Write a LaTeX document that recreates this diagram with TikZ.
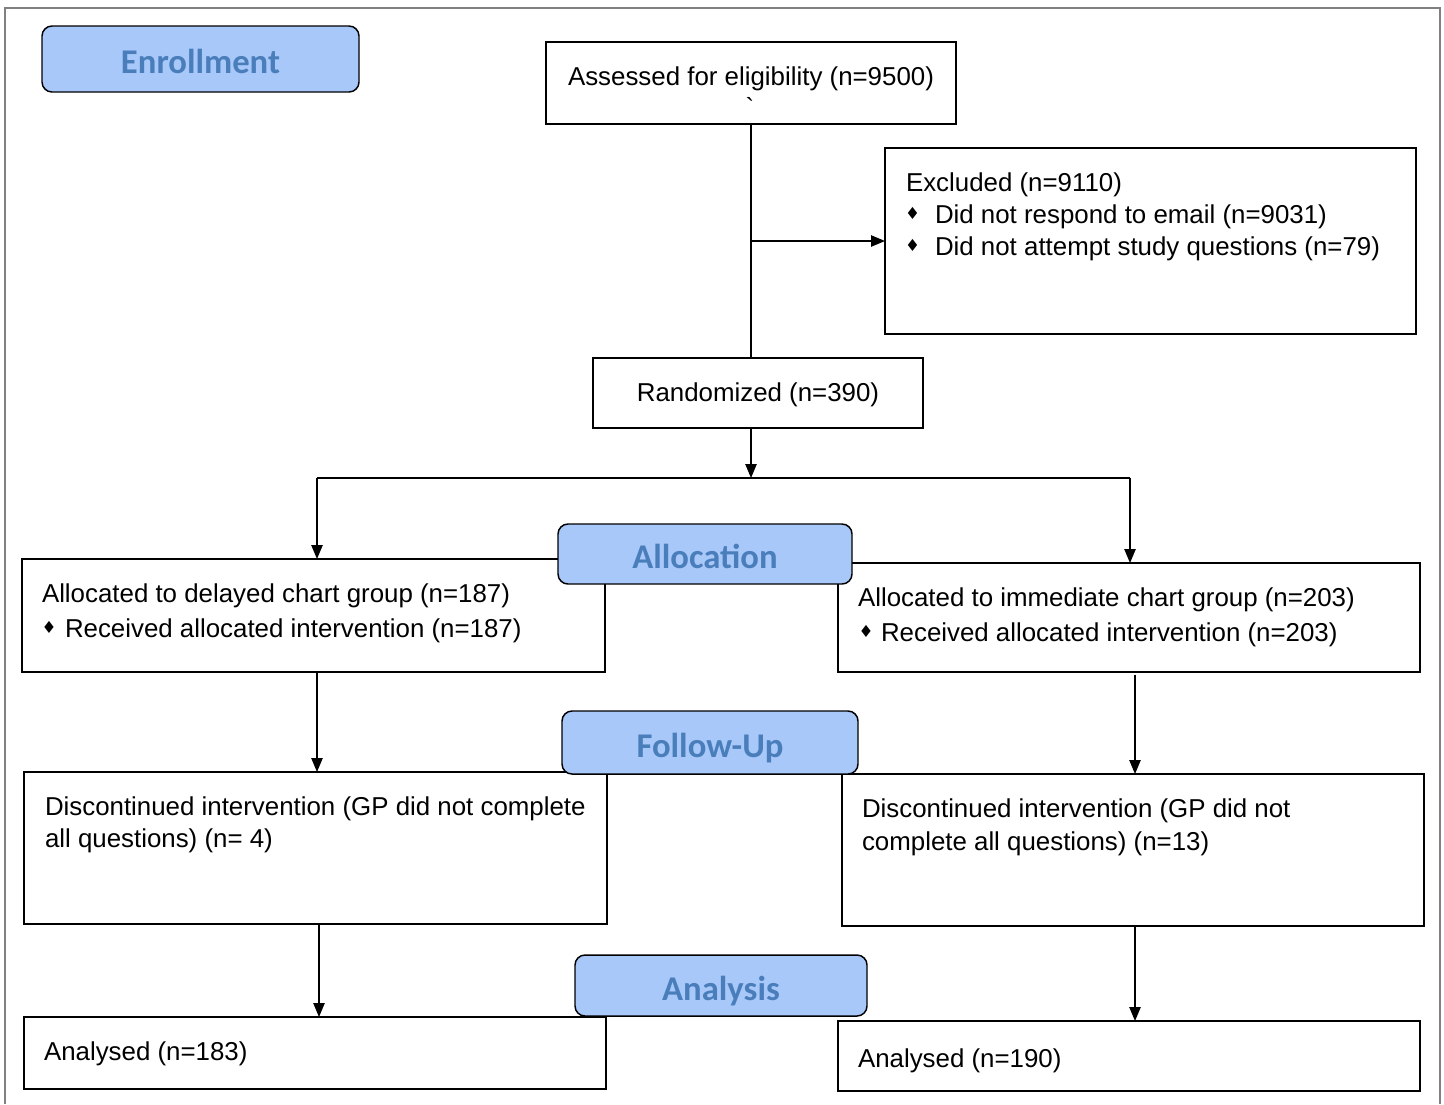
\documentclass[tikz,border=0pt]{standalone}
\usepackage{fontspec}
\setmainfont{Liberation Sans}
\newfontfamily\labfont{Carlito}
\newfontfamily\symfont{DejaVu Sans}
\usetikzlibrary{arrows.meta}
\definecolor{labfill}{RGB}{168,200,250}
\definecolor{labtext}{RGB}{74,126,187}
\begin{document}
\begin{tikzpicture}[x=0.75pt,y=-0.75pt,
  bx/.style={draw=black,line width=1.1pt,inner sep=0pt,outer sep=0pt,fill=white},
  lab/.style={draw=black,line width=1.1pt,fill=labfill,rounded corners=7.5pt,inner sep=0pt,outer sep=0pt,
    text height=22pt,text depth=0pt,
    font=\labfont\bfseries\fontsize{26}{30}\selectfont,text=labtext},
  txt/.style={anchor=base west,inner sep=0pt,outer sep=0pt,font=\fontsize{19.4}{23}\selectfont},
  ctxt/.style={anchor=base,inner sep=0pt,outer sep=0pt,font=\fontsize{19.4}{23}\selectfont},
  bul/.style={anchor=center,inner sep=0pt,outer sep=0pt,font=\symfont\fontsize{12.5}{12.5}\selectfont},
  arr/.style={line width=1.1pt,-{Triangle[length=10.5pt,width=8.5pt]}},
  ln/.style={line width=1.1pt}]
\useasboundingbox (0,0) rectangle (1444,1104);
\fill[white] (0,0) rectangle (1444,1104);
% outer frame
\draw[gray,line width=1.5pt] (5,1104) -- (5,8) -- (1440,8) -- (1440,1104);

% boxes
\node[bx,minimum width=307.5pt,minimum height=61.5pt] (assess) at (751,83) {};
\node[bx,minimum width=398.25pt,minimum height=139.5pt] (excl) at (1150.5,241) {};
\node[bx,minimum width=247.5pt,minimum height=52.5pt] (rand) at (758,393) {};
\node[bx,minimum width=437.25pt,minimum height=84.75pt] (la) at (313.5,615.5) {};
\node[bx,minimum width=436.5pt,minimum height=81.75pt] (ra) at (1129,617.5) {};
\node[bx,minimum width=437.25pt,minimum height=114pt] (ld) at (315.5,848) {};
\node[bx,minimum width=436.5pt,minimum height=114pt] (rd) at (1133,850) {};
\node[bx,minimum width=436.5pt,minimum height=54pt] (lan) at (315,1053) {};
\node[bx,minimum width=436.5pt,minimum height=52.5pt] (ran) at (1129,1056) {};

% texts
\node[ctxt] (assess-t) at (751,85) {Assessed for eligibility (n=9500)};
\node[ctxt] (assess-g) at (750,116) {\textasciigrave};

\node[txt] (excl-t1) at (906,191) {Excluded (n=9110)};
\node[bul] (excl-b1) at (912.5,213) {♦};
\node[txt] (excl-t2) at (935,223) {Did not respond to email (n=9031)};
\node[bul] (excl-b2) at (912.5,245) {♦};
\node[txt] (excl-t3) at (935,255) {Did not attempt study questions (n=79)};

\node[ctxt] (rand-t) at (758,401) {Randomized (n=390)};

\node[txt] (la-t1) at (42,602) {Allocated to delayed chart group (n=187)};
\node[bul] (la-b) at (49,627) {♦};
\node[txt] (la-t2) at (65,637) {Received allocated intervention (n=187)};

\node[txt] (ra-t1) at (858,606) {Allocated to immediate chart group (n=203)};
\node[bul] (ra-b) at (866,631) {♦};
\node[txt] (ra-t2) at (881,641) {Received allocated intervention (n=203)};

\node[txt] (ld-t1) at (45,815) {Discontinued intervention (GP did not complete};
\node[txt] (ld-t2) at (45,847) {all questions) (n= 4)};

\node[txt] (rd-t1) at (862,817) {Discontinued intervention (GP did not};
\node[txt] (rd-t2) at (862,850) {complete all questions) (n=13)};

\node[txt] (lan-t) at (44,1060) {Analysed (n=183)};
\node[txt] (ran-t) at (858,1067) {Analysed (n=190)};

% connectors
\coordinate (split) at (751,478);
\coordinate (sl) at (317,478);
\coordinate (sr) at (1130,478);
\coordinate (lx2) at (319,0);
\coordinate (rx) at (1135,0);

\draw[ln] (assess.south -| split) -- (split |- rand.north);
\draw[arr] (split |- excl.west) -- (excl.west);
\draw[arr] (split |- rand.south) -- (split);
\draw[ln] (sl) -- (sr);
\draw[arr] (sl) -- (sl |- la.north);
\draw[arr] (sr) -- (sr |- ra.north);
\draw[arr] (sl |- la.south) -- (sl |- ld.north);
\draw[arr] ([yshift=-2pt]rx |- ra.south) -- (rx |- rd.north);
\draw[arr] (lx2 |- ld.south) -- (lx2 |- lan.north);
\draw[arr] (rx |- rd.south) -- (rx |- ran.north);

% stage labels
\node[lab,minimum width=237.75pt,minimum height=49.5pt] (enr) at (200.5,59) {Enrollment};
\node[lab,minimum width=220.5pt,minimum height=45pt] (alloc) at (705,554) {Allocation};
\node[lab,minimum width=222pt,minimum height=47.25pt] (fu) at (710,742.5) {Follow-Up};
\node[lab,minimum width=219pt,minimum height=45.75pt] (an) at (721,985.5) {Analysis};
\end{tikzpicture}
\end{document}
